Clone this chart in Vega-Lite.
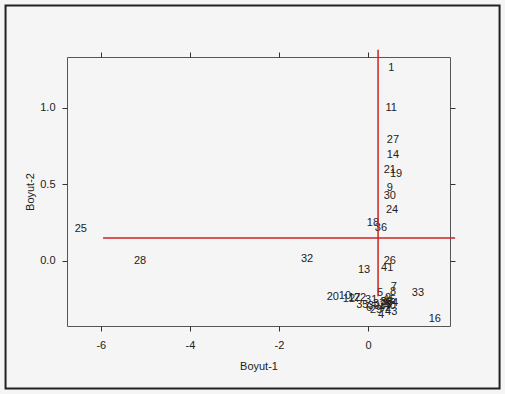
{
  "$schema": "https://vega.github.io/schema/vega-lite/v6.json",
  "width": 383,
  "height": 269,
  "autosize": {"type": "none"},
  "padding": {"left": 67, "top": 57, "right": 55, "bottom": 68},
  "background": "#f5f5f5",
  "config": {
    "view": {"stroke": "#555555", "strokeWidth": 1, "fill": null},
    "axis": {
      "domain": false,
      "grid": false,
      "ticks": true,
      "tickSize": 5,
      "tickColor": "#333333",
      "tickWidth": 1,
      "labelFont": "Liberation Sans",
      "labelFontSize": 11,
      "labelColor": "#222222",
      "titleFont": "Liberation Sans",
      "titleFontSize": 11,
      "titleFontWeight": "normal",
      "titleColor": "#222222"
    }
  },
  "datasets": {
    "pts": [
      {"id": "1", "x": 0.52, "y": 1.26},
      {"id": "11", "x": 0.52, "y": 1.0},
      {"id": "27", "x": 0.56, "y": 0.79},
      {"id": "14", "x": 0.56, "y": 0.69},
      {"id": "21", "x": 0.49, "y": 0.595},
      {"id": "19", "x": 0.63, "y": 0.57},
      {"id": "9", "x": 0.49, "y": 0.48},
      {"id": "30", "x": 0.49, "y": 0.425},
      {"id": "24", "x": 0.54, "y": 0.33},
      {"id": "18", "x": 0.11, "y": 0.25},
      {"id": "36", "x": 0.29, "y": 0.215},
      {"id": "26", "x": 0.49, "y": 0.0},
      {"id": "41", "x": 0.43, "y": -0.045},
      {"id": "13", "x": -0.09, "y": -0.06},
      {"id": "25", "x": -6.45, "y": 0.21},
      {"id": "28", "x": -5.12, "y": 0.0},
      {"id": "32", "x": -1.37, "y": 0.013},
      {"id": "33", "x": 1.12, "y": -0.21},
      {"id": "16", "x": 1.5, "y": -0.38},
      {"id": "7", "x": 0.58, "y": -0.17},
      {"id": "8", "x": 0.56, "y": -0.2},
      {"id": "5", "x": 0.27, "y": -0.21},
      {"id": "20", "x": -0.79, "y": -0.235},
      {"id": "10", "x": -0.52, "y": -0.229},
      {"id": "12", "x": -0.43, "y": -0.248},
      {"id": "17", "x": -0.31, "y": -0.242},
      {"id": "22", "x": -0.18, "y": -0.242},
      {"id": "31", "x": 0.07, "y": -0.255},
      {"id": "35", "x": -0.13, "y": -0.288},
      {"id": "6", "x": 0.02, "y": -0.307},
      {"id": "29", "x": 0.18, "y": -0.32},
      {"id": "4", "x": 0.29, "y": -0.353},
      {"id": "43", "x": 0.52, "y": -0.333},
      {"id": "2", "x": 0.45, "y": -0.242},
      {"id": "3", "x": 0.34, "y": -0.268},
      {"id": "15", "x": 0.49, "y": -0.255},
      {"id": "23", "x": 0.4, "y": -0.288},
      {"id": "34", "x": 0.54, "y": -0.275},
      {"id": "37", "x": 0.25, "y": -0.281},
      {"id": "38", "x": 0.43, "y": -0.268},
      {"id": "39", "x": 0.13, "y": -0.294},
      {"id": "40", "x": 0.49, "y": -0.294},
      {"id": "42", "x": 0.38, "y": -0.307}
    ],
    "lines": [
      {"x": 0.225, "y": -0.23, "x2": 0.225, "y2": 1.38},
      {"x": -5.95, "y": 0.15, "x2": 1.955, "y2": 0.15}
    ]
  },
  "resolve": {"axis": {"x": "independent", "y": "independent"}},
  "layer": [
    {
      "data": {"name": "pts"},
      "mark": {"type": "text", "font": "Liberation Sans", "fontSize": 11, "color": "#222222", "align": "center", "baseline": "middle"},
      "encoding": {
        "x": {"field": "x", "type": "quantitative", "scale": {"domain": [-6.76, 1.84], "nice": false, "zero": false},
              "axis": {"orient": "bottom", "values": [-6, -4, -2, 0], "title": "Boyut-1", "labelPadding": 8, "titlePadding": 10, "labelExpr": "'' + datum.value"}},
        "y": {"field": "y", "type": "quantitative", "scale": {"domain": [-0.425, 1.333], "nice": false, "zero": false},
              "axis": {"orient": "left", "values": [0, 0.5, 1.0], "format": ".1f", "title": "Boyut-2", "labelPadding": 7, "titlePadding": 4}},
        "text": {"field": "id"}
      }
    },
    {
      "data": {"name": "lines"},
      "mark": {"type": "rule", "color": "#cc2222", "strokeWidth": 1.5},
      "encoding": {
        "x": {"field": "x", "type": "quantitative",
              "axis": {"orient": "top", "values": [-6, -4, -2, 0], "labels": false, "title": null}},
        "x2": {"field": "x2"},
        "y": {"field": "y", "type": "quantitative",
              "axis": {"orient": "right", "values": [0, 0.5, 1.0], "labels": false, "title": null}},
        "y2": {"field": "y2"}
      }
    },
    {
      "data": {"values": [{"frame": "outer"}]},
      "mark": {"type": "rect", "fill": null, "stroke": "#222222", "strokeWidth": 2},
      "encoding": {
        "x": {"datum": -8.14, "type": "quantitative", "axis": null},
        "x2": {"datum": 2.953},
        "y": {"datum": 1.67, "type": "quantitative", "axis": null},
        "y2": {"datum": -0.833}
      }
    }
  ]
}
